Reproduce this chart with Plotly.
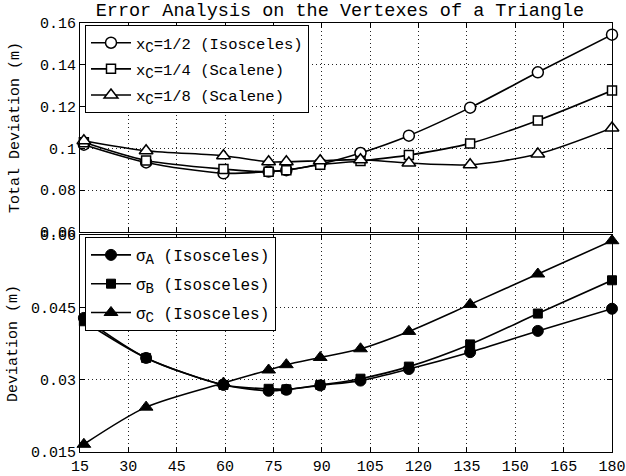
import plotly.graph_objects as go

# ---- data ----
angles = [16.2, 35.5, 59.5, 73.5, 79, 89.5, 102, 117, 136, 157, 180]

total_half = [0.1018, 0.0933, 0.0881, 0.0889, 0.0896, 0.0925, 0.0978, 0.1061, 0.1195, 0.1364, 0.1544]
total_quarter = [0.1029, 0.0942, 0.0901, 0.0888, 0.0896, 0.0922, 0.0940, 0.0968, 0.1024, 0.1134, 0.1277]
total_eighth = [0.1037, 0.0989, 0.0965, 0.0936, 0.0936, 0.0941, 0.0946, 0.0930, 0.0922, 0.0973, 0.1098]

sigma_a = [0.0428, 0.0345, 0.0289, 0.0277, 0.0279, 0.0288, 0.0298, 0.0322, 0.0357, 0.0401, 0.0447]
sigma_b = [0.0421, 0.0345, 0.0289, 0.0281, 0.0280, 0.0289, 0.0302, 0.0327, 0.0373, 0.0437, 0.0506]
sigma_c = [0.0166, 0.0243, 0.0293, 0.0320, 0.0331, 0.0346, 0.0364, 0.0400, 0.0456, 0.0519, 0.0588]

SUB = "<sub><span style='font-size:14px'>%s</span></sub>"
top_names = ["x" + SUB % "C" + "=1/2 (Isosceles)", "x" + SUB % "C" + "=1/4 (Scalene)",
             "x" + SUB % "C" + "=1/8 (Scalene)"]
bottom_names = ["σ" + SUB % "A" + " (Isosceles)", "σ" + SUB % "B" + " (Isosceles)",
                "σ" + SUB % "C" + " (Isosceles)"]

x_ticks = [15, 30, 45, 60, 75, 90, 105, 120, 135, 150, 165, 180]
top_yticks = [0.06, 0.08, 0.1, 0.12, 0.14, 0.16]
top_ylabels = ["0.06", "0.08", "0.1", "0.12", "0.14", "0.16"]
bot_yticks = [0.015, 0.03, 0.045, 0.06]
bot_ylabels = ["0.015", "0.03", "0.045", "0.06"]

FONT = "Liberation Mono, Courier New, monospace"

fig = go.Figure()

top_series = [total_half, total_quarter, total_eighth]
symbols = ["circle", "square", "triangle-up"]
sizes = [11, 9, 12]
for i, (vals, name) in enumerate(zip(top_series, top_names)):
    fig.add_trace(go.Scatter(
        x=angles, y=vals, name=name, mode="lines+markers",
        line=dict(color="black", width=1.6, shape="spline", smoothing=0.8),
        marker=dict(symbol=symbols[i], size=sizes[i], color="white",
                    line=dict(color="black", width=1.5)),
        xaxis="x", yaxis="y", legend="legend", legendgroup="t%d" % i, cliponaxis=False,
    ))

bot_series = [sigma_a, sigma_b, sigma_c]
for i, (vals, name) in enumerate(zip(bot_series, bottom_names)):
    fig.add_trace(go.Scatter(
        x=angles, y=vals, name=name, mode="lines+markers",
        line=dict(color="black", width=1.6, shape="spline", smoothing=0.8),
        marker=dict(symbol=symbols[i], size=sizes[i], color="black",
                    line=dict(color="black", width=1)),
        xaxis="x2", yaxis="y2", legend="legend2", legendgroup="b%d" % i, cliponaxis=False,
    ))

axis_common = dict(
    showline=True, linecolor="black", linewidth=1, mirror="ticks",
    ticks="inside", ticklen=5, tickcolor="black", tickwidth=1,
    showgrid=True, gridcolor="#222", gridwidth=1, griddash="1px,3px",
    zeroline=False, tickfont=dict(family=FONT, size=15, color="black"),
    automargin=False,
)

legend_common = dict(
    xanchor="left", yanchor="top", bgcolor="white", bordercolor="black", borderwidth=1,
    itemwidth=40,
)

fig.update_layout(
    width=626, height=476,
    margin=dict(l=80, r=14, t=23, b=24, autoexpand=False),
    paper_bgcolor="white", plot_bgcolor="white",
    font=dict(family=FONT, size=15, color="black"),
    title=dict(text="Error Analysis on the Vertexes of a Triangle", x=0.543, xanchor="center",
               y=0.981, yanchor="middle", font=dict(family=FONT, size=18.5, color="black")),
    xaxis=dict(domain=[0, 1], anchor="y", range=[15, 180], tickvals=x_ticks,
               showticklabels=False, **axis_common),
    yaxis=dict(domain=[0.5128, 1], anchor="x", range=[0.06, 0.16], tickvals=top_yticks,
               ticktext=top_ylabels,
               title=dict(text="Total Deviation (m)", font=dict(family=FONT, size=15), standoff=16),
               **axis_common),
    xaxis2=dict(domain=[0, 1], anchor="y2", range=[15, 180], tickvals=x_ticks,
                ticktext=[str(v) for v in x_ticks], **axis_common),
    yaxis2=dict(domain=[0, 0.506], anchor="x2", range=[0.015, 0.06], tickvals=bot_yticks,
                ticktext=bot_ylabels,
                title=dict(text="Deviation (m)", font=dict(family=FONT, size=15), standoff=9),
                **axis_common),
    legend=dict(x=0.0094, y=0.995, font=dict(family=FONT, size=15.5, color="black"),
                tracegroupgap=3, **legend_common),
    legend2=dict(x=0.0094, y=0.5012, font=dict(family=FONT, size=16, color="black"),
                 tracegroupgap=5, **legend_common),
    showlegend=True,
)

fig.write_html("out.html", config={"displayModeBar": False},
               post_script="document.body.style.margin='0px';")
